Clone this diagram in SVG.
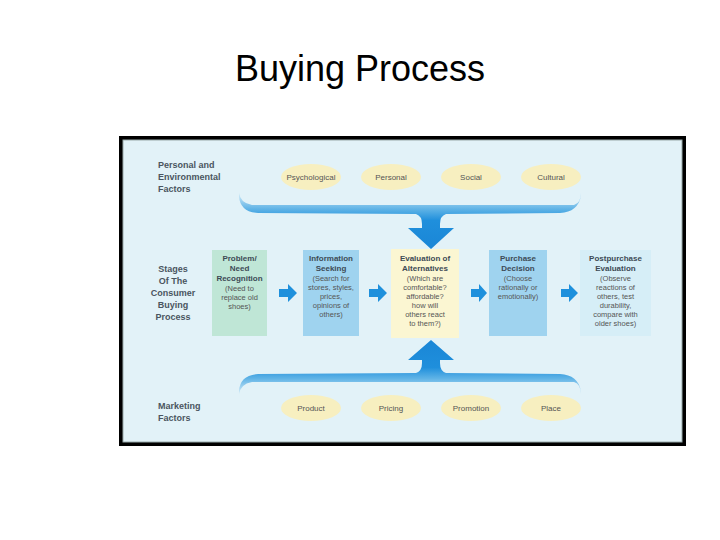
<svg xmlns="http://www.w3.org/2000/svg" width="720" height="540" viewBox="0 0 720 540">
<defs>
<linearGradient id="gTop" x1="0" y1="0" x2="0" y2="1" gradientUnits="objectBoundingBox">
<stop offset="0" stop-color="#dff1f9"/><stop offset="0.3" stop-color="#5fb3e6"/><stop offset="0.5" stop-color="#1f8fdc"/><stop offset="1" stop-color="#1a86d6"/>
</linearGradient>
<linearGradient id="gBot" x1="0" y1="1" x2="0" y2="0">
<stop offset="0" stop-color="#dff1f9"/><stop offset="0.3" stop-color="#5fb3e6"/><stop offset="0.5" stop-color="#1f8fdc"/><stop offset="1" stop-color="#1a86d6"/>
</linearGradient>
<marker id="m" markerWidth="1" markerHeight="1"/>
</defs>
<style>
.lbl{font-family:"Liberation Sans",Arial,sans-serif;font-size:9px;font-weight:bold;fill:#4a5560}
.ov{fill:#f7efc0}
.ot{font-family:"Liberation Sans",Arial,sans-serif;font-size:8px;fill:#555;text-anchor:middle}
.bt{font-family:"Liberation Sans",Arial,sans-serif;font-size:8px;font-weight:bold;fill:#3d4a55;text-anchor:middle}
.bd{font-family:"Liberation Sans",Arial,sans-serif;font-size:7.5px;fill:#555;text-anchor:middle}
.arr{fill:#1e90dc}
</style>
<rect width="720" height="540" fill="#fff"/>
<text x="360" y="81" text-anchor="middle" font-family="Liberation Sans,Arial,sans-serif" font-size="36" fill="#000">Buying Process</text>
<rect x="119" y="136" width="567" height="310" fill="#000"/>
<rect x="123" y="140" width="559" height="302" fill="#e2f2f8" stroke="#9aa" stroke-width="1"/>

<g id="personal-factors">
<text class="lbl" x="158" y="168">Personal and</text>
<text class="lbl" x="158" y="180">Environmental</text>
<text class="lbl" x="158" y="192">Factors</text>
</g>
<g id="psychological"><ellipse class="ov" cx="311" cy="177" rx="30" ry="13"/><text class="ot" x="311" y="180">Psychological</text></g>
<g id="personal"><ellipse class="ov" cx="391" cy="177" rx="30" ry="13"/><text class="ot" x="391" y="180">Personal</text></g>
<g id="social"><ellipse class="ov" cx="471" cy="177" rx="30" ry="13"/><text class="ot" x="471" y="180">Social</text></g>
<g id="cultural"><ellipse class="ov" cx="551" cy="177" rx="30" ry="13"/><text class="ot" x="551" y="180">Cultural</text></g>

<g id="stages-label">
<text class="lbl" x="173" y="272" text-anchor="middle">Stages</text>
<text class="lbl" x="173" y="284" text-anchor="middle">Of The</text>
<text class="lbl" x="173" y="296" text-anchor="middle">Consumer</text>
<text class="lbl" x="173" y="308" text-anchor="middle">Buying</text>
<text class="lbl" x="173" y="320" text-anchor="middle">Process</text>
</g>

<g id="problem"><rect x="212" y="250" width="55" height="86" fill="#bfe6d6"/>
<text class="bt" x="239.5" y="261">Problem/</text><text class="bt" x="239.5" y="271">Need</text><text class="bt" x="239.5" y="281">Recognition</text>
<text class="bd" x="239.5" y="291">(Need to</text><text class="bd" x="239.5" y="300">replace old</text><text class="bd" x="239.5" y="309">shoes)</text></g>
<g id="information"><rect x="303" y="250" width="56" height="86" fill="#9fd3ef"/>
<text class="bt" x="331" y="261">Information</text><text class="bt" x="331" y="271">Seeking</text>
<text class="bd" x="331" y="281">(Search for</text><text class="bd" x="331" y="290">stores, styles,</text><text class="bd" x="331" y="299">prices,</text><text class="bd" x="331" y="308">opinions of</text><text class="bd" x="331" y="317">others)</text></g>
<g id="evaluation"><rect x="391" y="249" width="68" height="89" fill="#fbf6d2"/>
<text class="bt" x="425" y="261">Evaluation of</text><text class="bt" x="425" y="271">Alternatives</text>
<text class="bd" x="425" y="281">(Which are</text><text class="bd" x="425" y="290">comfortable?</text><text class="bd" x="425" y="299">affordable?</text><text class="bd" x="425" y="308">how will</text><text class="bd" x="425" y="317">others react</text><text class="bd" x="425" y="326">to them?)</text></g>
<g id="purchase"><rect x="489" y="250" width="58" height="86" fill="#9fd3ef"/>
<text class="bt" x="518" y="261">Purchase</text><text class="bt" x="518" y="271">Decision</text>
<text class="bd" x="518" y="281">(Choose</text><text class="bd" x="518" y="290">rationally or</text><text class="bd" x="518" y="299">emotionally)</text></g>
<g id="postpurchase"><rect x="580" y="250" width="71" height="86" fill="#d6eef7"/>
<text class="bt" x="615.5" y="261">Postpurchase</text><text class="bt" x="615.5" y="271">Evaluation</text>
<text class="bd" x="615.5" y="281">(Observe</text><text class="bd" x="615.5" y="290">reactions of</text><text class="bd" x="615.5" y="299">others, test</text><text class="bd" x="615.5" y="308">durability,</text><text class="bd" x="615.5" y="317">compare with</text><text class="bd" x="615.5" y="326">older shoes)</text></g>

<g id="marketing-factors">
<text class="lbl" x="158" y="409">Marketing</text>
<text class="lbl" x="158" y="421">Factors</text>
</g>
<g id="product"><ellipse class="ov" cx="311" cy="408" rx="30" ry="13"/><text class="ot" x="311" y="411">Product</text></g>
<g id="pricing"><ellipse class="ov" cx="391" cy="408" rx="30" ry="13"/><text class="ot" x="391" y="411">Pricing</text></g>
<g id="promotion"><ellipse class="ov" cx="471" cy="408" rx="30" ry="13"/><text class="ot" x="471" y="411">Promotion</text></g>
<g id="place"><ellipse class="ov" cx="551" cy="408" rx="30" ry="13"/><text class="ot" x="551" y="411">Place</text></g>

<g id="connectors">
<path d="M239,192 Q240,203 252,205 L574,205 Q581,203 581,192 L581,196 Q578,212 560,213 L446,214 Q440,216 440,224 L440,228 L454,228 L431,249 L408,228 L422,228 L422,224 Q422,216 416,214 L258,213 Q240,212 239,196 Z" fill="url(#gTop)"/>
<path d="M239,395 Q240,384 252,382 L574,382 Q581,384 581,395 L581,391 Q578,375 560,374 L446,373 Q440,371 440,363 L440,360 L454,360 L431,340 L408,360 L422,360 L422,363 Q422,371 416,373 L258,374 Q240,375 239,391 Z" fill="url(#gBot)"/>
<path class="arr" d="M279,289 L288,289 L288,284 L297,293 L288,302 L288,297 L279,297 Z"/>
<path class="arr" d="M369,289 L378,289 L378,284 L387,293 L378,302 L378,297 L369,297 Z"/>
<path class="arr" d="M471,289 L479,289 L479,284 L487,293 L479,302 L479,297 L471,297 Z"/>
<path class="arr" d="M561,289 L569,289 L569,284 L578,293 L569,302 L569,297 L561,297 Z"/>
</g>
</svg>
